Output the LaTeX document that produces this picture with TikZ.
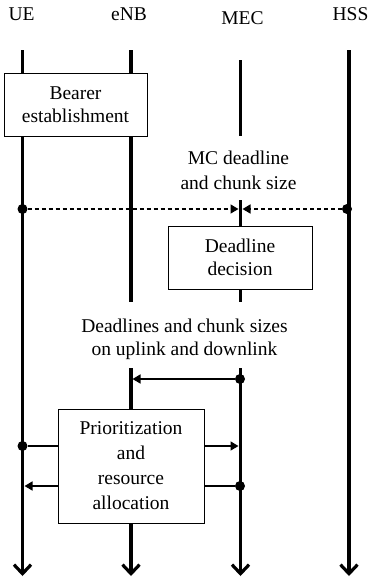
\documentclass[tikz,border=0pt]{standalone}
\usepackage{fontspec}
\setmainfont{Liberation Serif}
\usetikzlibrary{arrows.meta}
\begin{document}
\begin{tikzpicture}[x=1pt,y=-1pt,
  lbl/.style={font=\fontsize{19.5}{23}\selectfont, inner sep=0pt, align=center},
  box/.style={draw, line width=0.9pt, fill=white, font=\fontsize{19.5}{22.5}\selectfont, align=center, inner sep=0pt},
  life/.style={line width=3.6pt},
  lifeend/.style={life, -{Straight Barb[length=9pt,width=17pt,line width=3.2pt]}},
  msg/.style={line width=1.6pt},
  dashmsg/.style={msg, dash pattern=on 4pt off 3pt},
  dot/.style={circle, fill=black, inner sep=0pt, minimum size=10pt},
  tip/.style={-{Triangle[length=8pt,width=9pt]}}
]
\useasboundingbox (0,0) rectangle (368,579);

% headers
\node[lbl, anchor=base] (ue) at (21.5,20) {UE};
\node[lbl, anchor=base] (enb) at (129,20) {eNB};
\node[lbl, anchor=base] (mec) at (242.5,24) {MEC};
\node[lbl, anchor=base] (hss) at (350.5,20) {HSS};

% lifeline coordinates
\coordinate (ue-top) at (22.5,50);   \coordinate (ue-bot) at (22.5,576);
\coordinate (enb-top) at (131,50);   \coordinate (enb-a) at (131,302);
\coordinate (enb-b) at (131,368);    \coordinate (enb-bot) at (131,576);
\coordinate (mec-top) at (240.5,60); \coordinate (mec-a) at (240.5,136);
\coordinate (mec-b) at (240.5,200);  \coordinate (mec-c) at (240.5,302);
\coordinate (mec-d) at (240.5,368);  \coordinate (mec-bot) at (240.5,576);
\coordinate (hss-top) at (349,50);   \coordinate (hss-bot) at (349,576);

% lifelines
\draw[lifeend] (ue-top) -- (ue-bot);
\draw[life] (enb-top) -- (enb-a);
\draw[lifeend] (enb-b) -- (enb-bot);
\draw[life] (mec-top) -- (mec-a);
\draw[life] (mec-b) -- (mec-c);
\draw[lifeend] (mec-d) -- (mec-bot);
\draw[lifeend] (hss-top) -- (hss-bot);

% boxes
\node[box, minimum width=143pt, minimum height=63pt] (bearer) at (75.5,104.5) {Bearer\\establishment};
\node[box, minimum width=144pt, minimum height=63pt] (decision) at (240,257.5) {Deadline\\decision};
\node[box, minimum width=146pt, minimum height=114pt, font=\fontsize{19.5}{25}\selectfont] (prio) at (131,466) {Prioritization\\and\\resource\\allocation};

% labels
\node[lbl, font=\fontsize{19.5}{25}\selectfont] (mclbl) at (238.5,170.5) {MC deadline\\and chunk size};
\node[lbl] (dllbl) at (184.5,339.5) {Deadlines and chunk sizes\\on uplink and downlink};

% MC deadline messages
\node[dot] (ue-d1) at (22.5,209) {};
\node[dot] (hss-d1) at (347,209) {};
\coordinate (mec-in1) at (238.5,209);
\coordinate (mec-in2) at (242.5,209);
\draw[dashmsg, tip] (ue-d1) -- (mec-in1);
\draw[dashmsg, tip] (hss-d1) -- (mec-in2);

% deadlines to eNB
\node[dot] (mec-d2) at (240,379) {};
\coordinate (enb-in) at (132.5,379);
\draw[msg, tip] (mec-d2) -- (enb-in);

% prioritization arrows
\node[dot] (ue-d3) at (22.5,446) {};
\coordinate (prio-l1) at (58,446);
\coordinate (prio-r1) at (204,446);
\coordinate (mec-in3) at (238.5,446);
\draw[msg] (ue-d3) -- (prio-l1);
\draw[msg, tip] (prio-r1) -- (mec-in3);

\node[dot] (mec-d4) at (240,486) {};
\coordinate (prio-l2) at (58,486);
\coordinate (prio-r2) at (204,486);
\coordinate (ue-in4) at (24.5,486);
\draw[msg, tip] (prio-l2) -- (ue-in4);
\draw[msg] (mec-d4) -- (prio-r2);
\end{tikzpicture}
\end{document}
